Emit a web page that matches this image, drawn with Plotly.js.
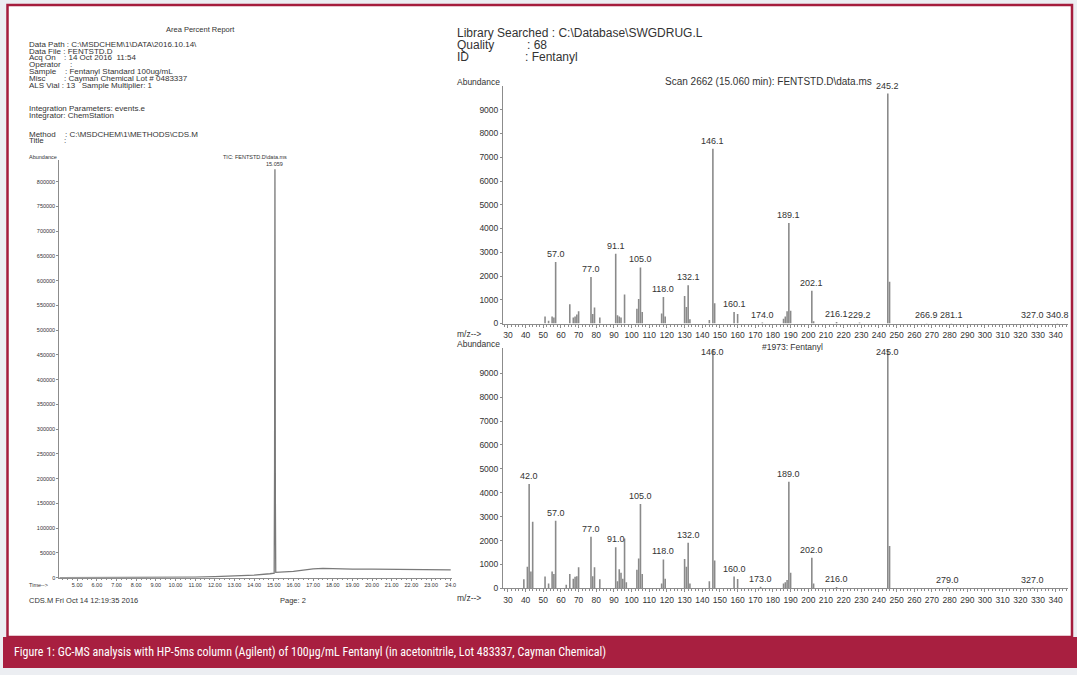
<!DOCTYPE html>
<html><head><meta charset="utf-8">
<script src="https://cdn.plot.ly/plotly-3.0.1.min.js"></script>
<style>html,body{margin:0;padding:0;background:#eceef2;} #chart{width:1077px;height:675px;}</style>
</head><body><div id="chart"></div>
<script>
// ---------- data ----------
const chromTime  = [4.09, 5, 6, 7, 8, 9, 10, 11, 12, 13, 14, 14.8, 15.02, 15.04, 15.059, 15.08, 15.1, 16, 17, 17.5, 18, 19, 20, 21, 22, 23, 24];
const chromAbund = [0, 0, 100, 200, 300, 500, 700, 1200, 2000, 3400, 5300, 8000, 9000, 220000, 825000, 160000, 10700, 12700, 18000, 18800, 18000, 17500, 17200, 16800, 16500, 16300, 16000];
const chromTickVals = [5,6,7,8,9,10,11,12,13,14,15,16,17,18,19,20,21,22,23,24];
const chromTickText = ['5.00','6.00','7.00','8.00','9.00','10.00','11.00','12.00','13.00','14.00','15.00','16.00','17.00','18.00','19.00','20.00','21.00','22.00','23.00','24.0'];
const chromYTicks = [0,50000,100000,150000,200000,250000,300000,350000,400000,450000,500000,550000,600000,650000,700000,750000,800000];
const chromPeakTime = 15.059, chromPeakLabel = '15.059';

const topMz = [51, 53, 55, 56, 57, 65, 67, 68, 69, 70, 77, 78, 79, 82, 91, 92, 93, 94, 96, 103, 104, 105, 106, 117, 118, 119, 130, 131, 132, 133, 144, 146, 147, 158, 160, 174, 186, 187, 188, 189, 190, 202, 203, 216, 229, 245, 246, 267, 281, 327, 341];
const topAb = [300, 120, 300, 250, 2590, 810, 250, 300, 380, 520, 1960, 400, 670, 250, 2940, 350, 300, 250, 1220, 620, 1030, 2360, 480, 420, 1120, 300, 1160, 700, 1610, 180, 150, 7360, 850, 480, 400, 40, 200, 300, 520, 4235, 540, 1380, 100, 60, 40, 9680, 1760, 20, 20, 20, 20];
const topLabelMz = [57, 77, 91, 105, 118, 132, 146, 158, 174, 189, 202, 216, 229, 245, 267, 281, 327, 341];
const topLabelText = ['57.0','77.0','91.1','105.0','118.0','132.1','146.1','160.1','174.0','189.1','202.1','216.1','229.2','245.2','266.9','281.1','327.0','340.8'];

const botMz = [39, 41, 42, 43, 44, 51, 53, 55, 56, 57, 63, 65, 67, 68, 69, 70, 77, 78, 79, 82, 91, 92, 93, 94, 95, 96, 97, 103, 104, 105, 106, 117, 118, 119, 130, 131, 132, 133, 144, 146, 147, 158, 160, 173, 186, 187, 188, 189, 190, 202, 203, 216, 245, 246, 279, 327];
const botAb = [380, 900, 4370, 700, 2790, 490, 200, 700, 600, 2830, 150, 600, 400, 480, 500, 880, 2160, 500, 880, 380, 1720, 300, 800, 650, 400, 2090, 250, 780, 1250, 3530, 600, 200, 1210, 400, 1230, 900, 1910, 200, 300, 9999, 1160, 490, 390, 60, 200, 250, 350, 4460, 650, 1280, 200, 50, 9999, 1770, 30, 30];
const botLabelMz = [42, 57, 77, 91, 105, 118, 132, 146, 158, 173, 189, 202, 216, 245, 279, 327];
const botLabelText = ['42.0','57.0','77.0','91.0','105.0','118.0','132.0','146.0','160.0','173.0','189.0','202.0','216.0','245.0','279.0','327.0'];

const mzTickVals = [30,40,50,60,70,80,90,100,110,120,130,140,150,160,170,180,190,200,210,220,230,240,250,260,270,280,290,300,310,320,330,340];
const specYTicks = [0,1000,2000,3000,4000,5000,6000,7000,8000,9000];

// ---------- helpers ----------
const W = 1077, H = 675;
const fx = px => px / W;
const fy = py => 1 - py / H;
const lookup = (xs, ys, v) => { const i = xs.indexOf(v); return i >= 0 ? ys[i] : 0; };
const NB = '\u00a0';
const FONT = 'Liberation Sans, Arial, sans-serif';
const INK = '#333333';
const AX = '#8c8c8c';
const HS = 8;   // left header body font size

function txt(px, py, text, size, opts) {
  return Object.assign({
    xref: 'paper', yref: 'paper', x: fx(px), y: fy(py), text: text, showarrow: false,
    xanchor: 'left', yanchor: 'middle', font: {family: FONT, size: size, color: INK}
  }, opts || {});
}

const traces = [
  {type: 'scatter', mode: 'lines', x: chromTime, y: chromAbund, xaxis: 'x', yaxis: 'y',
   line: {color: '#7a7a7a', width: 1.3}, hoverinfo: 'skip'},
  {type: 'bar', x: topMz, y: topAb, xaxis: 'x2', yaxis: 'y2', width: 0.9,
   marker: {color: '#8a8a8a', line: {width: 0}}, hoverinfo: 'skip'},
  {type: 'bar', x: botMz, y: botAb, xaxis: 'x3', yaxis: 'y3', width: 0.9,
   marker: {color: '#8a8a8a', line: {width: 0}}, hoverinfo: 'skip'}
];

const baseAxis = {showgrid: false, zeroline: false, showline: true, linecolor: AX, linewidth: 1,
  ticks: 'outside', tickcolor: AX, fixedrange: true};

const specX = (anchor) => Object.assign({}, baseAxis, {
  domain: [fx(503), fx(1068)], range: [27.2, 347], anchor: anchor,
  tickmode: 'array', tickvals: mzTickVals, ticktext: mzTickVals.map(String), ticklen: 3, tickwidth: 1,
  tickfont: {family: FONT, size: 8.5, color: INK},
  minor: {tickmode: 'linear', tick0: 0, dtick: 2, ticks: 'outside', ticklen: 2, tickcolor: AX}
});
const specY = (d0, d1, top, anchor) => Object.assign({}, baseAxis, {
  domain: [fy(d0), fy(d1)], range: [0, top], anchor: anchor,
  tickmode: 'array', tickvals: specYTicks, ticktext: specYTicks.map(String), ticklen: 2,
  tickfont: {family: FONT, size: 8.5, color: INK}
});

const layout = {
  width: W, height: H, margin: {l: 0, r: 0, t: 0, b: 0},
  paper_bgcolor: '#eceef2', plot_bgcolor: '#ffffff', showlegend: false,
  xaxis: Object.assign({}, baseAxis, {
    domain: [fx(59.3), fx(451.7)], range: [4.09, 24.05], anchor: 'y',
    tickmode: 'array', tickvals: chromTickVals, ticktext: chromTickText, ticklen: 2,
    tickfont: {family: FONT, size: 5.5, color: INK},
    minor: {tickmode: 'linear', tick0: 0, dtick: 0.25, ticks: 'outside', ticklen: 1.5, tickcolor: AX}
  }),
  yaxis: Object.assign({}, baseAxis, {
    domain: [fy(577.7), fy(160)], range: [0, 843800], anchor: 'x',
    tickmode: 'array', tickvals: chromYTicks, ticktext: chromYTicks.map(String), ticklen: 2,
    tickfont: {family: FONT, size: 5.5, color: INK}
  }),
  xaxis2: specX('y2'),
  yaxis2: specY(323.5, 86, 10000, 'x2'),
  xaxis3: specX('y3'),
  yaxis3: specY(588.3, 348, 10060, 'x3'),
  shapes: [
    {type: 'rect', xref: 'paper', yref: 'paper', x0: fx(7.5), x1: fx(1072), y0: fy(637), y1: fy(5),
     fillcolor: '#ffffff', line: {color: '#a51d3d', width: 2.5}, layer: 'below'},
    {type: 'rect', xref: 'paper', yref: 'paper', x0: fx(3), x1: 1, y0: fy(668), y1: fy(637),
     fillcolor: '#a81f40', line: {width: 0}, layer: 'below'}
  ],
  annotations: []
};

const A = layout.annotations;
// left header
A.push(txt(200, 29.3, 'Area Percent Report', 7.5, {xanchor: 'center'}));
A.push(txt(27, 44.3, 'Data Path : C:\\MSDCHEM\\1\\DATA\\2016.10.14\\', HS));
A.push(txt(27, 51, 'Data File : FENTSTD.D', HS));
A.push(txt(27, 57.7, 'Acq On', HS)); A.push(txt(62, 57.7, ':' + NB + '14 Oct 2016' + NB + NB + '11:54', HS));
A.push(txt(27, 64.3, 'Operator', HS)); A.push(txt(68, 64.3, ':', HS));
A.push(txt(27, 71.3, 'Sample', HS)); A.push(txt(63, 71.3, ':' + NB + 'Fentanyl Standard 100ug/mL', HS));
A.push(txt(27, 78.3, 'Misc', HS)); A.push(txt(62, 78.3, ':' + NB + 'Cayman Chemical Lot # 0483337', HS));
A.push(txt(27, 85.3, 'ALS Vial' + NB + ':' + NB + '13' + NB + NB + NB + 'Sample Multiplier: 1', HS));
A.push(txt(27, 109, 'Integration Parameters: events.e', HS));
A.push(txt(27, 115.3, 'Integrator: ChemStation', HS));
A.push(txt(27, 134, 'Method', HS)); A.push(txt(63, 134, ':' + NB + 'C:\\MSDCHEM\\1\\METHODS\\CDS.M', HS));
A.push(txt(27, 140.7, 'Title', HS)); A.push(txt(62, 140.7, ':', HS));
// chromatogram labels
A.push(txt(27, 157, 'Abundance', 5.5));
A.push(txt(255, 157, 'TIC: FENTSTD.D\\data.ms', 5.5, {xanchor: 'center'}));
A.push({xref: 'x', yref: 'y', x: chromPeakTime, y: lookup(chromTime, chromAbund, chromPeakTime), text: chromPeakLabel,
  showarrow: false, yanchor: 'bottom', yshift: 0, font: {family: FONT, size: 5.5, color: INK}});
A.push(txt(27, 585, 'Time-->', 5.5));
A.push(txt(27, 600, 'CDS.M Fri Oct 14 12:19:35 2016', 7.5));
A.push(txt(278, 600, 'Page: 2', 7.5));
// right header
A.push(txt(455, 33, 'Library Searched : C:\\Database\\SWGDRUG.L', 12));
A.push(txt(455, 45, 'Quality', 12)); A.push(txt(525, 45, ':' + NB + '68', 12));
A.push(txt(455, 57, 'ID', 12)); A.push(txt(523, 57, ':' + NB + 'Fentanyl', 12));
A.push(txt(455, 82, 'Abundance', 8.5));
A.push(txt(874, 81, 'Scan 2662 (15.060 min): FENTSTD.D\\data.ms', 10, {xanchor: 'right'}));
A.push(txt(455, 334, 'm/z-->', 8.5));
A.push(txt(455, 344, 'Abundance', 8.5));
A.push(txt(760, 347, '#1973: Fentanyl', 8.5));
A.push(txt(455, 598, 'm/z-->', 8.5));
// peak labels
topLabelMz.forEach((mz, i) => A.push({xref: 'x2', yref: 'y2', x: mz, y: lookup(topMz, topAb, mz),
  text: topLabelText[i], showarrow: false, yanchor: 'bottom', yshift: 1,
  font: {family: FONT, size: 9, color: INK}}));
botLabelMz.forEach((mz, i) => A.push({xref: 'x3', yref: 'y3', x: mz, y: Math.min(lookup(botMz, botAb, mz), 9550),
  text: botLabelText[i], showarrow: false, yanchor: 'bottom', yshift: 1,
  font: {family: FONT, size: 9, color: INK}}));
// caption
A.push(txt(12, 652, 'Figure 1: GC-MS analysis with HP-5ms column (Agilent) of 100µg/mL Fentanyl (in acetonitrile, Lot 483337, Cayman Chemical)', 12,
  {font: {family: 'Liberation Sans Narrow, Arial Narrow, Roboto Condensed, sans-serif', size: 12, color: '#ffffff'}}));

Plotly.newPlot('chart', traces, layout, {displayModeBar: false, staticPlot: true});
</script></body></html>
